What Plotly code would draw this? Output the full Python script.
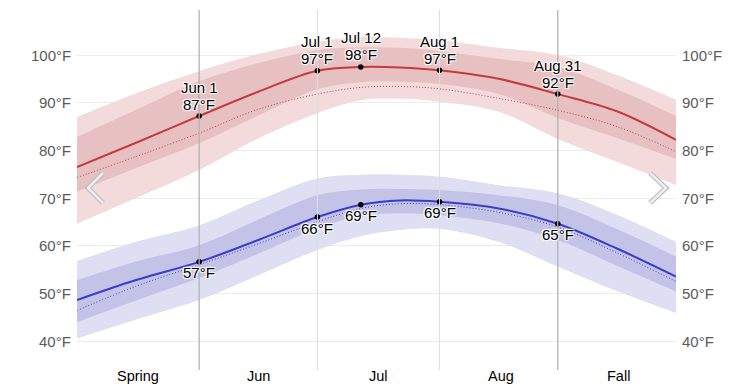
import plotly.graph_objects as go

# ---------------- data ----------------
dates = ["2023-05-01", "2023-05-16", "2023-06-01", "2023-06-16", "2023-07-01", "2023-07-12",
         "2023-07-22", "2023-08-01", "2023-08-16", "2023-08-31", "2023-09-15", "2023-09-30"]

high_avg = [76.5, 81.6, 87.2, 92.3, 96.7, 97.5, 97.4, 96.8, 95.0, 91.8, 88.2, 82.2]
high_feel = [74.3, 78.7, 83.6, 88.6, 91.8, 93.2, 93.4, 92.9, 90.9, 88.4, 85.0, 79.7]
high_p90 = [87.0, 92.0, 96.6, 100.2, 102.8, 103.8, 103.6, 103.1, 101.5, 100.0, 95.8, 90.6]
high_p75 = [82.8, 88.5, 94.5, 98.3, 101.0, 101.6, 101.5, 100.8, 99.2, 97.5, 92.8, 87.2]
high_p25 = [71.3, 76.3, 81.5, 87.3, 92.8, 94.3, 94.4, 93.9, 91.8, 86.8, 82.6, 78.2]
high_p10 = [64.6, 70.0, 75.9, 82.5, 87.8, 90.5, 90.8, 90.2, 88.1, 82.4, 77.6, 72.7]

low_avg = [48.6, 52.8, 56.6, 61.2, 66.0, 68.6, 69.5, 69.2, 67.8, 64.6, 59.4, 53.5]
low_feel = [46.4, 51.5, 56.0, 60.4, 65.0, 67.8, 68.8, 68.6, 67.0, 63.9, 58.5, 52.5]
low_p90 = [56.8, 60.8, 64.3, 69.5, 74.1, 74.9, 74.9, 74.5, 72.7, 71.0, 66.5, 60.8]
low_p75 = [52.8, 56.7, 60.1, 65.5, 70.6, 71.8, 71.9, 71.7, 70.6, 68.5, 63.5, 57.7]
low_p25 = [44.0, 48.5, 53.2, 58.3, 63.6, 66.2, 66.8, 66.4, 64.7, 61.2, 55.8, 50.4]
low_p10 = [40.5, 44.5, 48.6, 53.8, 59.1, 62.0, 63.3, 63.5, 60.8, 55.6, 50.5, 45.9]

mark_dates = ["2023-06-01", "2023-07-01", "2023-07-12", "2023-08-01", "2023-08-31"]
mark_names = ["Jun 1", "Jul 1", "Jul 12", "Aug 1", "Aug 31"]
mark_high = [87.2, 96.7, 97.5, 96.8, 91.8]
mark_low = [56.6, 66.0, 68.6, 69.2, 64.6]

season_lines = ["2023-06-01", "2023-08-31"]
month_lines = ["2023-07-01", "2023-08-01"]

band_labels = ["Spring", "Jun", "Jul", "Aug", "Fall"]
band_label_pos = ["2023-05-16 12:00", "2023-06-16", "2023-07-16 12:00", "2023-08-16 12:00", "2023-09-15 12:00"]

y_ticks = [40, 50, 60, 70, 80, 90, 100]

# ---------------- styling ----------------
RED = "#c43b3b"
RED_L = "#f3dbdb"
RED_D = "#e7c1c2"
BLUE = "#3c3cc6"
BLUE_L = "#dfdff3"
BLUE_D = "#c3c3e8"

W, H = 753, 387
L, R, T, B = 77, 676, 10, 365

fig = go.Figure()


def band(lo, hi, color):
    fig.add_trace(go.Scatter(x=dates, y=lo, mode="lines", line=dict(width=0, shape="spline", color=color),
                             hoverinfo="skip", showlegend=False))
    fig.add_trace(go.Scatter(x=dates, y=hi, mode="lines", line=dict(width=0, shape="spline", color=color),
                             fill="tonexty", fillcolor=color, hoverinfo="skip", showlegend=False))


band(high_p10, high_p90, RED_L)
band(high_p25, high_p75, RED_D)
band(low_p10, low_p90, BLUE_L)
band(low_p25, low_p75, BLUE_D)

fig.add_trace(go.Scatter(x=dates, y=high_feel, mode="lines",
                         line=dict(color=RED, width=1, dash="1px,2px", shape="spline"), showlegend=False))
fig.add_trace(go.Scatter(x=dates, y=low_feel, mode="lines",
                         line=dict(color=BLUE, width=1, dash="1px,2px", shape="spline"), showlegend=False))
fig.add_trace(go.Scatter(x=dates, y=high_avg, mode="lines",
                         line=dict(color=RED, width=2, shape="spline"), showlegend=False))
fig.add_trace(go.Scatter(x=dates, y=low_avg, mode="lines",
                         line=dict(color=BLUE, width=2, shape="spline"), showlegend=False))

fig.add_trace(go.Scatter(x=mark_dates, y=mark_high, mode="markers",
                         marker=dict(color="black", size=5.5), showlegend=False))
fig.add_trace(go.Scatter(x=mark_dates, y=mark_low, mode="markers",
                         marker=dict(color="black", size=5.5), showlegend=False))

halo = "1px 1px 1px #fff, -1px -1px 1px #fff, 1px -1px 1px #fff, -1px 1px 1px #fff"
lab_font = dict(family="Liberation Sans, Arial, sans-serif", size=15, color="black", shadow=halo)

annotations = []
for d, n, v in zip(mark_dates, mark_names, mark_high):
    annotations.append(dict(x=d, y=v, xref="x", yref="y", text=f"{round(v)}°F", showarrow=False,
                            yanchor="middle", yshift=12, font=lab_font))
    annotations.append(dict(x=d, y=v, xref="x", yref="y", text=n, showarrow=False,
                            yanchor="middle", yshift=29, font=lab_font))
for d, v in zip(mark_dates, mark_low):
    annotations.append(dict(x=d, y=v, xref="x", yref="y", text=f"{round(v)}°F", showarrow=False,
                            yanchor="middle", yshift=-11, font=lab_font))

for t, p in zip(band_labels, band_label_pos):
    annotations.append(dict(x=p, y=0, xref="x", yref="paper", text=t, showarrow=False,
                            yanchor="middle", yshift=-11,
                            font=dict(family="Liberation Sans, Arial, sans-serif", size=14.5, color="black")))

tick_font = dict(family="Liberation Sans, Arial, sans-serif", size=15, color="#5a5a5a")
for v in y_ticks:
    annotations.append(dict(x=0, y=v, xref="paper", yref="y", text=f"{v}°F", showarrow=False,
                            xanchor="right", yanchor="middle", xshift=-4, font=tick_font))
    annotations.append(dict(x=1, y=v, xref="paper", yref="y", text=f"{v}°F", showarrow=False,
                            xanchor="left", yanchor="middle", xshift=4, font=tick_font))

ext = 5 / (B - T)
shapes = []
for d in season_lines:
    shapes.append(dict(type="line", x0=d, x1=d, xref="x", yref="paper", y0=-ext, y1=1,
                       line=dict(color="#b3b3b3", width=1.3), layer="above"))
for d in month_lines:
    shapes.append(dict(type="line", x0=d, x1=d, xref="x", yref="paper", y0=-ext, y1=1,
                       line=dict(color="#dddddd", width=1), layer="above"))


def px(xp, yp):
    return (xp - L) / (R - L), (B - yp) / (B - T)


def chevron(pts):
    s = ""
    for i, (a, b) in enumerate(pts):
        u, v = px(a, b)
        s += ("M" if i == 0 else "L") + f"{u:.5f},{v:.5f} "
    return s


for pts in ([(103, 173), (88, 188), (103, 203)], [(650, 173), (666, 188), (650, 203)]):
    path = chevron(pts)
    shapes.append(dict(type="path", path=path, xref="paper", yref="paper",
                       line=dict(color="#bdbdbd", width=5), layer="above"))
    shapes.append(dict(type="path", path=path, xref="paper", yref="paper",
                       line=dict(color="#efefef", width=2.5), layer="above"))

ppd = (341 - 55) / 60.0
y_top = 100 + (55 - T) / ppd
y_bot = 40 - (B - 341) / ppd

fig.update_layout(
    width=W, height=H,
    margin=dict(l=L, r=W - R, t=T, b=H - B, pad=0),
    plot_bgcolor="white", paper_bgcolor="white",
    xaxis=dict(range=["2023-05-01", "2023-09-30"], showticklabels=False, showgrid=False,
               zeroline=False, showline=False, ticks=""),
    yaxis=dict(range=[y_bot, y_top], tickvals=y_ticks, showticklabels=False, showgrid=True,
               gridcolor="#ececec", gridwidth=1, zeroline=False, showline=False, ticks=""),
    annotations=annotations,
    shapes=shapes,
    showlegend=False,
    hovermode=False,
)

fig.write_html("out.html", config={"displayModeBar": False},
               post_script="document.body.style.margin='0';document.body.style.overflow='hidden';")
